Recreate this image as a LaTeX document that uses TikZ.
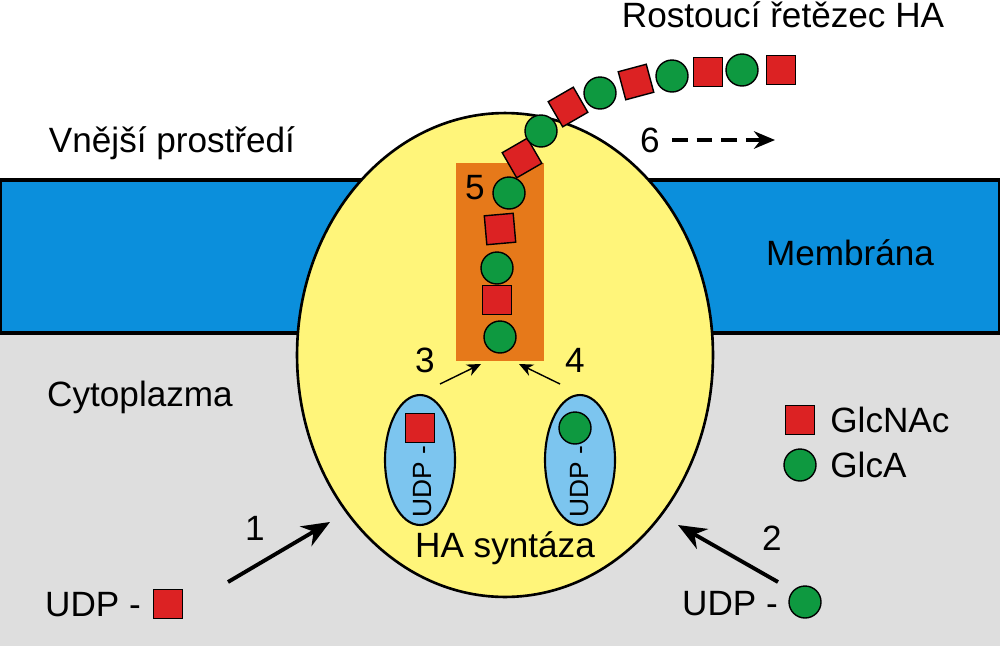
\documentclass[tikz,border=0pt]{standalone}
\usepackage{fontspec}
\setmainfont{Liberation Sans}
\usetikzlibrary{shapes.geometric,arrows.meta}
\definecolor{memb}{HTML}{0B8FDC}
\definecolor{sqred}{HTML}{DC2223}
\definecolor{cigreen}{HTML}{0E9940}
\definecolor{orng}{HTML}{E6791A}
\definecolor{ylw}{HTML}{FFF57A}
\definecolor{lblue}{HTML}{7CC5EF}
\definecolor{cyto}{HTML}{DEDEDE}
\begin{document}
\begin{tikzpicture}[x=0.02cm,y=-0.02cm,
  sq/.style={draw=black,line width=0.8pt,fill=sqred,minimum size=0.58cm,inner sep=0pt},
  ci/.style={circle,draw=black,line width=0.8pt,fill=cigreen,minimum size=0.64cm,inner sep=0pt},
  lab/.style={font=\fontsize{20}{24}\selectfont,inner sep=0pt},
  arr/.style={-{Stealth[length=8pt,width=7pt]},line width=0.8pt}]
\useasboundingbox (0,0) rectangle (1000,646);
\fill[cyto] (0,333) rectangle (1000,646);
\fill[memb,draw=black,line width=2pt] (0,180) rectangle (1000,333);
\node[draw=black,line width=1.5pt,fill=ylw,ellipse,minimum width=8.32cm,minimum height=9.68cm] (syn) at (505,355) {};
\node[fill=orng,minimum width=1.76cm,minimum height=3.98cm,inner sep=0] (rect) at (500,262) {};
\node[ci] (c1) at (500,337) {};
\node[sq] (s1) at (497,300) {};
\node[ci] (c2) at (497,268) {};
\node[sq,rotate=5] (s2) at (500,229) {};
\node[ci] (c3) at (509,193) {};
\node[sq,rotate=30] (s3) at (522,158) {};
\node[ci] (c4) at (541,131) {};
\node[sq,rotate=30] (s4) at (568,107) {};
\node[ci] (c5) at (600,93) {};
\node[sq,rotate=15] (s5) at (636,82) {};
\node[ci] (c6) at (672,76) {};
\node[sq] (s6) at (708,72) {};
\node[ci] (c7) at (742,70) {};
\node[sq] (s7) at (781,70) {};
\node[lab] (t1) at (783,15) {Rostoucí řetězec HA};
\node[lab] (t2) at (172,143) {Vnější prostředí};
\node[lab] (t3) at (850,253) {Membrána};
\node[lab] (t4) at (140,397) {Cytoplazma};
\node[lab] (n6) at (650,140) {6};
\coordinate (d1) at (672,140); \coordinate (d2) at (775,140);
\draw[-{Stealth[length=12pt,width=10pt]},line width=1.8pt,dash pattern=on 9pt off 5pt] (d1) -- (d2);
\node[lab] (n5) at (475,188) {5};
\node[lab] (n3) at (425,360) {3};
\node[lab] (n4) at (575,360) {4};
\node[draw=black,line width=1.2pt,fill=lblue,ellipse,minimum width=1.4cm,minimum height=2.6cm] (e1) at (420,460) {};
\node[draw=black,line width=1.2pt,fill=lblue,ellipse,minimum width=1.4cm,minimum height=2.6cm] (e2) at (580,460) {};
\coordinate (a1) at (440,384); \coordinate (a2) at (481,364);
\coordinate (b1) at (560,384); \coordinate (b2) at (519,364);
\draw[arr] (a1) -- (a2);
\draw[arr] (b1) -- (b2);
\node[sq] (es) at (420,428) {};
\node[ci] (ec) at (575,428) {};
\node[lab,rotate=90,font=\fontsize{15}{18}\selectfont] (u1) at (423,482) {UDP -};
\node[lab,rotate=90,font=\fontsize{15}{18}\selectfont] (u2) at (580,482) {UDP -};
\node[lab] (ha) at (505,548) {HA syntáza};
\node[sq] (ls) at (800,420) {};
\node[lab,anchor=west] (lt1) at (830,420) {GlcNAc};
\node[ci] (lc) at (800,465) {};
\node[lab,anchor=west] (lt2) at (830,465) {GlcA};
\node[lab] (n1) at (255,528) {1};
\node[lab] (n2) at (772,538) {2};
\coordinate (p1) at (228,582); \coordinate (p2) at (330,522);
\coordinate (q1) at (778,582); \coordinate (q2) at (678,525);
\draw[-{Stealth[length=16pt,width=13pt]},line width=2.2pt] (p1) -- (p2);
\draw[-{Stealth[length=16pt,width=13pt]},line width=2.2pt] (q1) -- (q2);
\node[lab] (ud1) at (93,605) {UDP -};
\node[sq] (us) at (168,604) {};
\node[lab] (ud2) at (730,604) {UDP -};
\node[ci] (uc) at (805,602) {};
\end{tikzpicture}
\end{document}
